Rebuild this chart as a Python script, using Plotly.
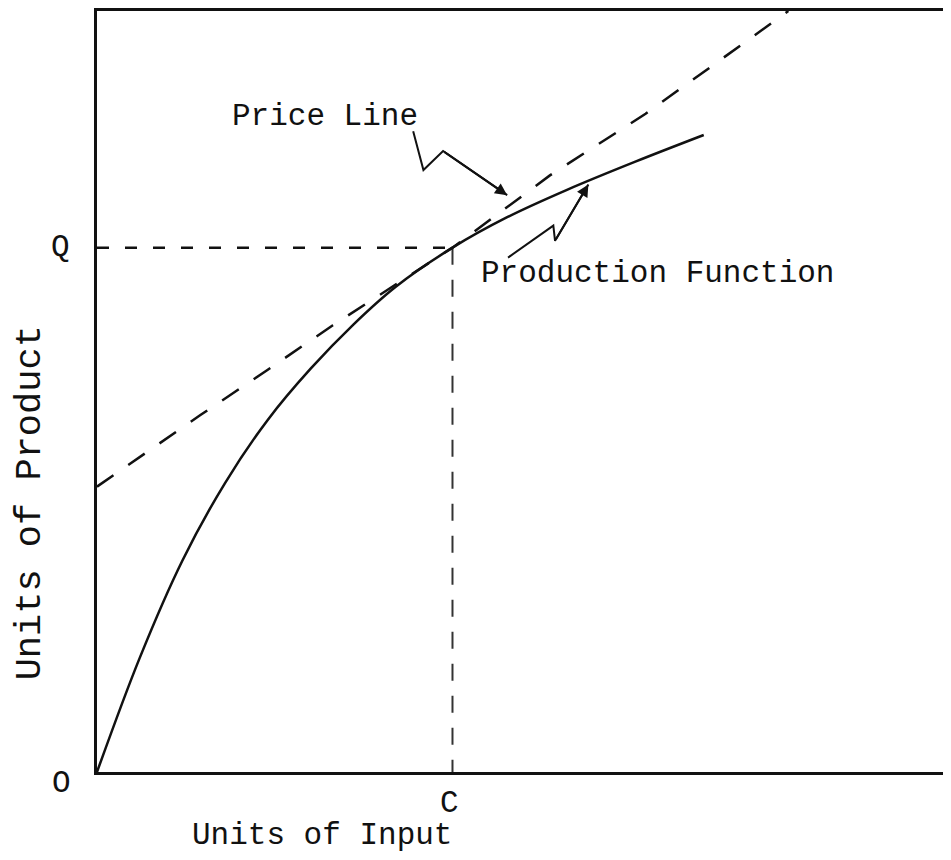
import plotly.graph_objects as go

# ---- data (abstract units: x = units of input, y = units of product) ----
prod_x = [0.0, 0.5, 1.0, 1.5, 2.0, 2.5, 3.0, 3.5, 4.16, 4.8, 5.5, 6.3, 7.1]
prod_y = [0.0, 1.50, 2.78, 3.80, 4.63, 5.30, 5.88, 6.38, 6.89, 7.29, 7.65, 8.02, 8.37]

price_x = [0.0, 1.21, 1.99, 2.76, 4.16, 5.30, 6.42, 8.09]
price_y = [3.75, 4.69, 5.28, 5.87, 6.89, 7.84, 8.65, 10.0]

opt_input = 4.16   # C
opt_output = 6.89  # Q

axis_labels = {"x": "Units of Input", "y": "Units of Product"}
point_labels = {"origin": "O", "input": "C", "output": "Q"}
curve_labels = {"price": "Price Line", "prod": "Production Function"}

# pointer paths (annotation leaders) in data units
price_ptr_x = [3.70, 3.82, 4.05, 4.80]
price_ptr_y = [8.42, 7.91, 8.16, 7.58]
prod_ptr_x = [4.81, 5.34, 5.36, 5.75]
prod_ptr_y = [6.76, 7.18, 6.98, 7.72]

FONT = "Courier New, Liberation Mono, monospace"
INK = "#111111"

fig = go.Figure()

# guide lines to Q and C
fig.add_trace(go.Scatter(x=[0, opt_input], y=[opt_output, opt_output], mode="lines",
                         line=dict(color=INK, width=2.5, dash="12px,16px"), hoverinfo="skip"))
fig.add_trace(go.Scatter(x=[opt_input, opt_input], y=[opt_output, 0], mode="lines",
                         line=dict(color="#333333", width=2, dash="17px,15px"), hoverinfo="skip"))
# price line
fig.add_trace(go.Scatter(x=price_x, y=price_y, mode="lines",
                         line=dict(color=INK, width=2.5, dash="20px,18px"), hoverinfo="skip"))
# production function
fig.add_trace(go.Scatter(x=prod_x, y=prod_y, mode="lines", line_shape="spline",
                         line=dict(color=INK, width=2.5, smoothing=1.0), hoverinfo="skip"))
# pointers
for px_, py_ in ((price_ptr_x, price_ptr_y), (prod_ptr_x, prod_ptr_y)):
    fig.add_trace(go.Scatter(x=px_, y=py_, mode="lines",
                             line=dict(color=INK, width=2), hoverinfo="skip"))
    fig.add_annotation(x=px_[-1], y=py_[-1], ax=px_[-2], ay=py_[-2], xref="x", yref="y",
                       axref="x", ayref="y", text="", showarrow=True, arrowhead=2,
                       arrowsize=1.2, arrowwidth=2, arrowcolor=INK)

tf = dict(family=FONT, size=31, color=INK)
fig.add_annotation(x=0, y=0, xref="x", yref="y", text=point_labels["origin"], showarrow=False,
                   font=tf, xshift=-36, yshift=-11)
fig.add_annotation(x=0, y=opt_output, xref="x", yref="y", text=point_labels["output"], showarrow=False,
                   font=tf, xshift=-37, yshift=0)
fig.add_annotation(x=opt_input, y=0, xref="x", yref="y", text=point_labels["input"], showarrow=False,
                   font=tf, xshift=-3, yshift=-31)
fig.add_annotation(x=1.56, y=8.61, xref="x", yref="y", text=curve_labels["price"], showarrow=False,
                   font=tf, xanchor="left")
fig.add_annotation(x=4.47, y=6.55, xref="x", yref="y", text=curve_labels["prod"], showarrow=False,
                   font=tf, xanchor="left")
# axis titles
fig.add_annotation(x=2.63, y=0, xref="x", yref="y", text=axis_labels["x"], showarrow=False,
                   font=tf, yshift=-63)
fig.add_annotation(x=0, y=3.53, xref="x", yref="y", text=axis_labels["y"], showarrow=False,
                   font=dict(family=FONT, size=37, color=INK), textangle=-90, xshift=-67)

fig.update_layout(
    width=935, height=844,
    margin=dict(l=89, r=0, t=0, b=80, pad=0),
    paper_bgcolor="white", plot_bgcolor="white",
    showlegend=False,
    xaxis=dict(range=[0, 9.9], showgrid=False, zeroline=False, showticklabels=False, ticks="",
               showline=True, linecolor=INK, linewidth=2.5, mirror=True),
    yaxis=dict(range=[0, 10], showgrid=False, zeroline=False, showticklabels=False, ticks="",
               showline=True, linecolor=INK, linewidth=2.5),
)

fig.write_html("out.html")
